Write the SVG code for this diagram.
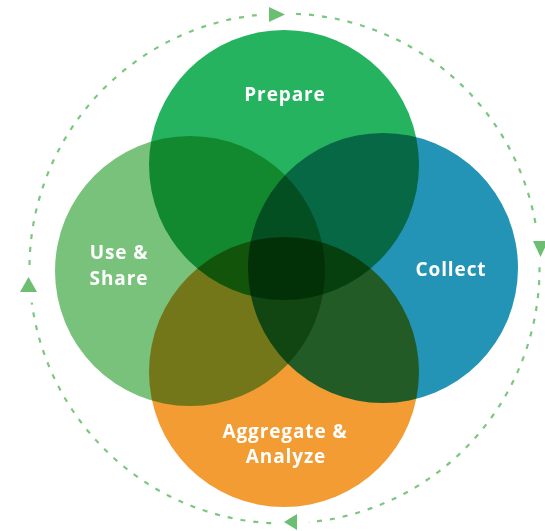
<svg xmlns="http://www.w3.org/2000/svg" width="545" height="531" viewBox="0 0 545 531">
  <style>
    .blob { mix-blend-mode: multiply; }
    .lbl { font-family: "Open Sans", "Noto Sans", sans-serif; font-weight: 700; font-size: 19px; fill: #ffffff; text-anchor: middle; letter-spacing: 0.9px; }
    .ring { fill: none; stroke: #7dc67f; stroke-width: 2.2; stroke-dasharray: 5 8; }
    .head { fill: #6cbf70; }
  </style>
  <rect width="545" height="531" fill="#ffffff"/>
  <g id="connectors">
    <path class="ring" d="M296.1,13.8 A255,255 0 0 1 536.5,229.5"/>
    <path class="ring" d="M539.5,267.2 A255,255 0 0 1 308.9,522.3"/>
    <path class="ring" d="M271.2,523.2 A255,255 0 0 1 31.8,302.7"/>
    <path class="ring" d="M29.5,264.9 A255,255 0 0 1 258.3,14.9"/>
    <polygon class="head" points="269,7 269,22 285,14.5"/>
    <polygon class="head" points="533,241 548,241 540.5,257"/>
    <polygon class="head" points="297,514 297,530 284,522"/>
    <polygon class="head" points="20,292 37,292 28.5,277"/>
  </g>
  <g id="prepare" class="blob">
    <circle cx="284" cy="165" r="135" fill="#25b360"/>
    <text class="lbl" x="285" y="101">Prepare</text>
  </g>
  <g id="collect" class="blob">
    <circle cx="383" cy="268" r="135" fill="#2394b6"/>
    <text class="lbl" x="451" y="276">Collect</text>
  </g>
  <g id="aggregate" class="blob">
    <circle cx="284" cy="372" r="135" fill="#f29c33"/>
    <text class="lbl" x="285" y="438">Aggregate &amp;</text>
    <text class="lbl" x="286" y="463">Analyze</text>
  </g>
  <g id="use-share" class="blob">
    <circle cx="190" cy="271" r="135" fill="#79c27c"/>
    <text class="lbl" x="119" y="259">Use &amp;</text>
    <text class="lbl" x="119" y="285">Share</text>
  </g>
</svg>
